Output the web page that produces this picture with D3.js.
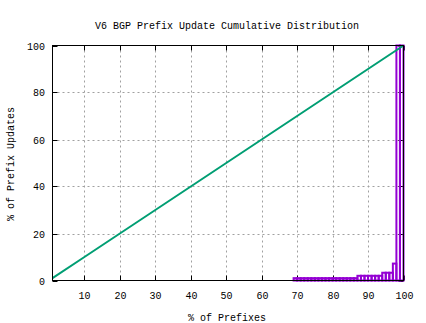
<!DOCTYPE html>
<html><head><meta charset="utf-8">
<script src="https://cdn.jsdelivr.net/npm/d3@7"></script>
<style>body{margin:0;background:#fff}svg{display:block}text{font-family:"Liberation Mono",monospace;font-size:10px;fill:#000}</style>
</head><body>
<script>
const title = "V6 BGP Prefix Update Cumulative Distribution";
const xTicks = [10,20,30,40,50,60,70,80,90,100];
const yTicks = [0,20,40,60,80,100];
// green cumulative line
const lineX = [1,10,20,30,40,50,60,70,80,90,100];
const lineY = [1,10,20,30,40,50,60,70,80,90,100];
// purple boxes (left edge, height)
const boxX = [69,70,71,72,73,74,75,76,77,78,79,80,81,82,83,84,85,86,87,88,89,90,91,92,93,94,95,96,97,98,99];
const boxY = [1,1,1,1,1,1,1,1,1,1,1,1,1,1,1,1,1,1,2,2,2,2,2,2,2,3.3,3.3,3.3,7.2,100,100];

const W=426,H=323;
const svg=d3.select("body").append("svg").attr("width",W).attr("height",H);
const L=52.5,R=403.5,T=45.5,B=280.5;
const x=d3.scaleLinear().domain([1,100]).range([L,R]);
const y=d3.scaleLinear().domain([0,100]).range([B,T]);

// grid
const g=svg.append("g");
xTicks.filter(t=>t<100).forEach(t=>{
  const px=Math.round(x(t))+0.5;
  g.append("line").attr("x1",px).attr("x2",px).attr("y1",T).attr("y2",B).attr("stroke","#a0a0a0").attr("stroke-dasharray","2,3");
});
yTicks.filter(t=>t>0&&t<100).forEach(t=>{
  const py=Math.round(y(t))+0.5;
  g.append("line").attr("x1",L).attr("x2",R).attr("y1",py).attr("y2",py).attr("stroke","#a0a0a0").attr("stroke-dasharray","2,3");
});
// ticks (inward, mirrored)
xTicks.forEach(t=>{
  const px=Math.round(x(t))+0.5;
  g.append("line").attr("x1",px).attr("x2",px).attr("y1",B).attr("y2",B-5).attr("stroke","#000");
  g.append("line").attr("x1",px).attr("x2",px).attr("y1",T).attr("y2",T+5).attr("stroke","#000");
  svg.append("text").attr("x",px).attr("y",299).attr("text-anchor","middle").text(t);
});
yTicks.forEach(t=>{
  const py=Math.round(y(t))+0.5;
  g.append("line").attr("x1",L).attr("x2",L+5).attr("y1",py).attr("y2",py).attr("stroke","#000");
  g.append("line").attr("x1",R).attr("x2",R-5).attr("y1",py).attr("y2",py).attr("stroke","#000");
  svg.append("text").attr("x",45).attr("y",py+3.5).attr("text-anchor","end").text(t);
});

// purple boxes
const boxes=svg.append("g");
boxX.forEach((bx,i)=>{
  boxes.append("rect").attr("x",x(bx)).attr("y",y(boxY[i])).attr("width",x(bx+1)-x(bx)).attr("height",y(0)-y(boxY[i]))
    .attr("fill","none").attr("stroke","#9400d3").attr("stroke-width",2);
});

// green line
svg.append("path").datum(lineX.map((d,i)=>[d,lineY[i]]))
  .attr("d",d3.line().x(d=>x(d[0])).y(d=>y(d[1])))
  .attr("fill","none").attr("stroke","#009e73").attr("stroke-width",2);

// border
svg.append("rect").attr("x",L).attr("y",T).attr("width",R-L).attr("height",B-T).attr("fill","none").attr("stroke","#000");

svg.append("text").attr("x",227).attr("y",29).attr("text-anchor","middle").text(title);
svg.append("text").attr("x",227).attr("y",321).attr("text-anchor","middle").text("% of Prefixes");
svg.append("text").attr("transform","translate(14,164) rotate(-90)").attr("text-anchor","middle").text("% of Prefix Updates");
</script>
</body></html>
